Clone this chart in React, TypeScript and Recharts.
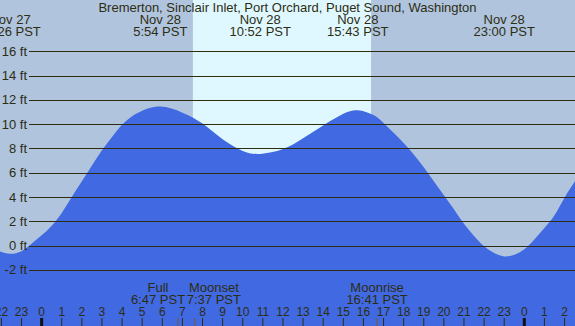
import React from 'react';
import { AreaChart, Area, XAxis, YAxis, ReferenceArea, ReferenceLine } from 'recharts';

const W = 575;
const H = 326;
const FONT = '"Liberation Sans", Arial, sans-serif';
const INK = '#2d2d12';
const SKY = '#b0c4de';
const DAY = '#dff8ff';
const WATER = '#4169e1';

const title = 'Bremerton, Sinclair Inlet, Port Orchard, Puget Sound, Washington';

// hours relative to midnight Nov 28 (PST), water level in ft
const hours = [
  -2.07, -1.57, -1, -0.5, 0, 0.5, 1, 1.5, 2, 2.5, 3, 3.5, 4, 4.5, 5, 5.9, 7, 8, 9, 10,
  10.87, 12, 13, 14, 15, 15.72, 16.5, 17, 17.5, 18, 18.5, 19, 19.5, 20, 20.5, 21, 21.5,
  22, 22.5, 23, 23.5, 24, 24.5, 25, 25.5, 26, 26.52,
];
const feet = [
  -0.48, -0.66, -0.45, 0.15, 0.85, 1.65, 2.7, 4.0, 5.3, 6.6, 7.85, 8.95, 9.95, 10.65, 11.1,
  11.45, 10.95, 10.05, 8.75, 7.8, 7.55, 7.95, 8.85, 9.9, 10.85, 11.15, 10.75, 10.1, 9.3,
  8.45, 7.5, 6.45, 5.3, 4.15, 3.0, 1.8, 0.8, -0.05, -0.6, -0.88, -0.75, -0.3, 0.5, 1.45,
  2.5, 3.95, 5.3,
];

const hourTicks = [-2, -1, 0, 1, 2, 3, 4, 5, 6, 7, 8, 9, 10, 11, 12, 13, 14, 15, 16, 17, 18, 19, 20, 21, 22, 23, 24, 25, 26];
const hourLabels = ['22', '23', '0', '1', '2', '3', '4', '5', '6', '7', '8', '9', '10', '11', '12', '13', '14', '15', '16', '17', '18', '19', '20', '21', '22', '23', '0', '1', '2'];
const ftTicks = [-2, 0, 2, 4, 6, 8, 10, 12, 14, 16];

const tideHours = [-1.57, 5.9, 10.87, 15.72, 23.0];
const tideDates = ['Nov 27', 'Nov 28', 'Nov 28', 'Nov 28', 'Nov 28'];
const tideTimes = ['22:26 PST', '5:54 PST', '10:52 PST', '15:43 PST', '23:00 PST'];

const moonHours = [6.78, 7.62, 16.68];
const moonNames = ['Full', 'Moonset', 'Moonrise'];
const moonTimes = ['6:47 PST', '7:37 PST', '16:41 PST'];
const moonShift = [-20, 19, 0];

const sunrise = 7.52;
const sunset = 16.38;

const X_MIN = -2.07;
const X_MAX = 26.52;
const Y_MIN = -6.61;
const Y_MAX = 20.22;

const rows = hours.map((h, i) => ({ h, ft: feet[i] }));

function FtTick(props: any) {
  const { y, payload } = props;
  const yy = Math.round(y) + 0.5;
  return (
    <g>
      <line x1={29} x2={W} y1={yy} y2={yy} stroke={INK} strokeWidth={1} />
      <text x={27} y={y + 4.5} textAnchor="end" fontSize={13} fontFamily={FONT} fill={INK}>
        {payload.value} ft
      </text>
    </g>
  );
}

function HourTick(props: any) {
  const { x, payload } = props;
  const i = hourTicks.indexOf(payload.value);
  const midnight = payload.value % 24 === 0;
  return (
    <g>
      <line x1={x} x2={x} y1={318} y2={H} stroke={midnight ? '#111' : INK} strokeWidth={midnight ? 3 : 1} />
      <text x={x} y={316} textAnchor="middle" fontSize={12} fontFamily={FONT} fill={INK}>
        {hourLabels[i]}
      </text>
    </g>
  );
}

function TideLabel(props: any) {
  const { viewBox, date, time } = props;
  const x = viewBox.x;
  return (
    <g>
      <text x={x} y={24} textAnchor="middle" fontSize={13} fontFamily={FONT} fill={INK}>{date}</text>
      <text x={x} y={36} textAnchor="middle" fontSize={13} fontFamily={FONT} fill={INK}>{time}</text>
    </g>
  );
}

function MoonLabel(props: any) {
  const { viewBox, name, time, shift } = props;
  const x = viewBox.x;
  const bottom = viewBox.y + viewBox.height;
  return (
    <g>
      <line x1={x} x2={x} y1={bottom - 8} y2={bottom} stroke="#7a5a30" strokeWidth={1} />
      <text x={x + shift} y={291.5} textAnchor="middle" fontSize={13} fontFamily={FONT} fill={INK}>{name}</text>
      <text x={x + shift} y={304} textAnchor="middle" fontSize={13} fontFamily={FONT} fill={INK}>{time}</text>
    </g>
  );
}

export default function App() {
  return (
    <div style={{ position: 'absolute', left: 0, top: 0, width: W, height: H, background: SKY, overflow: 'hidden' }}>
      <AreaChart width={W} height={H} data={rows} margin={{ top: 0, right: 0, bottom: 0, left: 0 }}>
        <ReferenceArea
          x1={sunrise}
          x2={sunset}
          y1={Y_MIN}
          y2={Y_MAX}
          fill={DAY}
          fillOpacity={1}
          stroke="none"
          ifOverflow="visible"
          zIndex={-50}
        />
        <Area
          dataKey="ft"
          type="natural"
          fill={WATER}
          fillOpacity={1}
          stroke="none"
          baseValue={Y_MIN}
          dot={false}
          activeDot={false}
          isAnimationActive={false}
        />
        <XAxis
          dataKey="h"
          type="number"
          domain={[X_MIN, X_MAX]}
          ticks={hourTicks}
          interval={0}
          allowDataOverflow
          mirror
          axisLine={false}
          tickLine={false}
          tick={<HourTick />}
        />
        <YAxis
          type="number"
          domain={[Y_MIN, Y_MAX]}
          ticks={ftTicks}
          interval={0}
          allowDataOverflow
          mirror
          axisLine={false}
          tickLine={false}
          tick={<FtTick />}
        />
        {tideHours.map((h, i) => (
          <ReferenceLine
            key={'t' + i}
            x={h}
            stroke="none"
            label={<TideLabel date={tideDates[i]} time={tideTimes[i]} />}
          />
        ))}
        {moonHours.map((h, i) => (
          <ReferenceLine
            key={'m' + i}
            x={h}
            stroke="none"
            label={<MoonLabel name={moonNames[i]} time={moonTimes[i]} shift={moonShift[i]} />}
          />
        ))}
      </AreaChart>
      <div
        style={{
          position: 'absolute',
          left: 0,
          top: 0,
          width: W,
          textAlign: 'center',
          fontFamily: FONT,
          fontSize: 13,
          lineHeight: '15px',
          color: INK,
        }}
      >
        {title}
      </div>
    </div>
  );
}
